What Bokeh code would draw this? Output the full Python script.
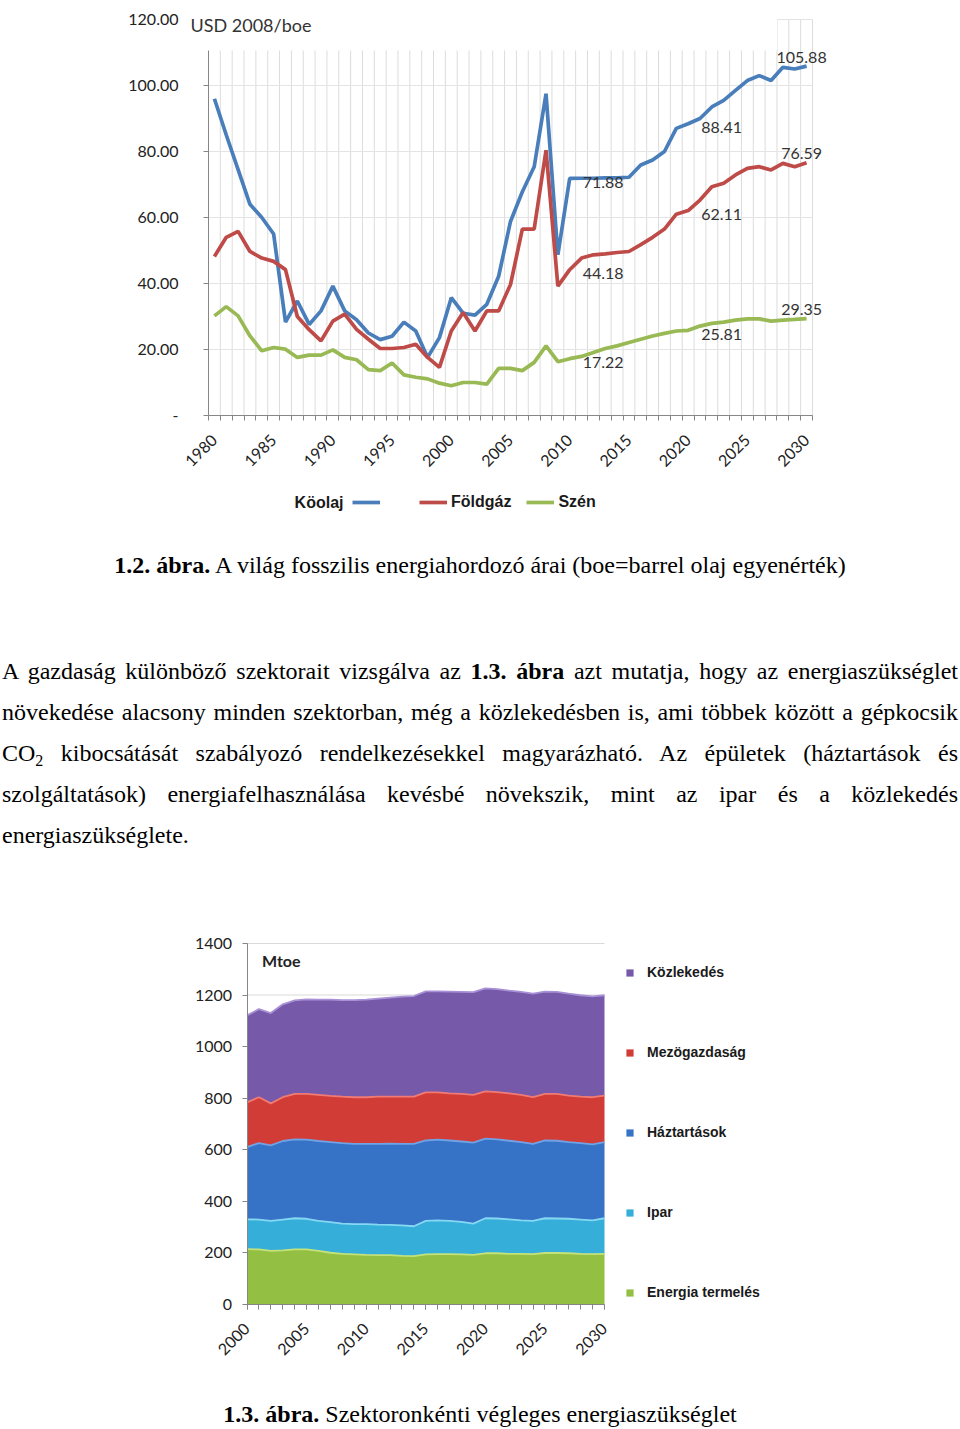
import math
from bokeh.plotting import figure
from bokeh.models import (Range1d, FixedTicker, Legend, LegendItem, Label, BoxAnnotation,
                          ColumnDataSource, Div, NumeralTickFormatter)
from bokeh.layouts import column
from bokeh.embed import file_html
from bokeh.resources import INLINE
from bokeh.core.properties import value

# ---------------- data: chart 1.2 ----------------
years1 = list(range(1980, 2031))
koolaj = [96.0, 85.0, 74.5, 64.0, 60.0, 55.0, 28.3, 34.7, 27.6, 31.7,
          39.2, 31.7, 29.0, 25.0, 23.0, 24.0, 28.3, 25.6, 17.6, 23.6,
          35.7, 31.0, 30.4, 33.7, 42.2, 58.8, 67.8, 75.4, 97.5, 48.7,
          71.88, 71.9, 71.9, 72.0, 72.0, 72.2, 75.9, 77.4, 80.0, 87.0,
          88.41, 90.0, 93.5, 95.5, 98.5, 101.5, 103.0, 101.5, 105.5, 105.0,
          105.88]
foldgaz = [48.2, 54.0, 55.8, 49.7, 47.7, 46.7, 44.2, 30.0, 26.0, 22.6,
           28.6, 30.7, 26.1, 23.1, 20.3, 20.3, 20.6, 21.6, 17.6, 14.6,
           25.6, 31.2, 25.6, 31.7, 31.7, 39.7, 56.5, 56.5, 80.4, 39.2,
           44.18, 47.7, 48.7, 49.0, 49.4, 49.7, 51.8, 54.0, 56.5, 61.0,
           62.11, 65.3, 69.3, 70.4, 72.9, 74.9, 75.4, 74.4, 76.4, 75.4,
           76.59]
szen = [30.2, 33.0, 30.2, 24.1, 19.6, 20.6, 20.1, 17.6, 18.3, 18.3,
        19.9, 17.6, 16.9, 13.9, 13.6, 15.9, 12.3, 11.6, 11.1, 9.8,
        9.0, 10.0, 10.0, 9.5, 14.3, 14.3, 13.6, 16.1, 21.1, 16.3,
        17.22, 17.9, 19.1, 20.3, 21.1, 22.1, 23.1, 24.1, 24.9, 25.6,
        25.81, 27.1, 27.9, 28.3, 28.9, 29.3, 29.3, 28.6, 28.9, 29.1,
        29.35]
y_ticks1 = [0, 20, 40, 60, 80, 100, 120]
x_label_years1 = [1980, 1985, 1990, 1995, 2000, 2005, 2010, 2015, 2020, 2025, 2030]
mid_label_years = [2010, 2020]
end_label_year = 2030
series_names1 = ["Köolaj", "Földgáz", "Szén"]

# ---------------- data: chart 1.3 ----------------
years2 = list(range(2000, 2031))
energia = [213, 212, 206, 208, 212, 212, 206, 199, 195, 193, 191, 190, 190, 187, 186, 193,
           194, 194, 193, 191, 197, 197, 195, 195, 194, 198, 198, 197, 195, 194, 195]
ipar = [116, 116, 117, 120, 121, 119, 117, 119, 117, 117, 119, 118, 117, 118, 116, 130,
        131, 129, 126, 121, 136, 135, 134, 130, 129, 135, 134, 134, 133, 131, 138]
haztartasok = [280, 297, 293, 305, 306, 307, 310, 311, 313, 312, 312, 314, 316, 317, 320, 312,
               313, 312, 312, 315, 309, 307, 305, 304, 299, 302, 302, 298, 297, 295, 296]
mezogazdasag = [174, 178, 163, 170, 177, 178, 179, 179, 180, 181, 181, 183, 182, 183, 183, 187,
                184, 183, 185, 185, 184, 184, 184, 183, 181, 181, 182, 180, 180, 183, 180]
kozlekedes = [338, 342, 351, 361, 363, 367, 370, 374, 375, 377, 379, 381, 385, 389, 391, 392,
              392, 395, 396, 399, 400, 400, 399, 400, 402, 397, 396, 396, 394, 392, 390]
y_ticks2 = [0, 200, 400, 600, 800, 1000, 1200, 1400]
x_label_years2 = [2000, 2005, 2010, 2015, 2020, 2025, 2030]
sector_names = ["Energia termelés", "Ipar", "Háztartások", "Mezögazdaság", "Közlekedés"]

AX = "#868686"
NUM_FONT = "Lato"
LEG_FONT = "Liberation Sans"
W = 960


def xspan(v_at, px_at, ppu, total):
    s = v_at - px_at / ppu
    return Range1d(s, s + total / ppu)


def yspan(v_at, px_from_top, ppu, total):
    e = v_at + px_from_top / ppu
    return Range1d(e - total / ppu, e)


def style_axis(ax, standoff):
    ax.axis_line_color = AX
    ax.major_tick_line_color = AX
    ax.minor_tick_line_color = AX
    ax.major_tick_in = 0
    ax.minor_tick_in = 0
    ax.major_label_standoff = standoff
    ax.major_label_text_font = NUM_FONT
    ax.major_label_text_font_size = "16px"
    ax.major_label_text_color = "#222222"


# ================= figure 1 (frame = whole canvas) =================
H1 = 530
x0_1, x1_1 = years1[0] - 0.5, years1[-1] + 0.5
p1 = figure(width=W, height=H1,
            x_range=xspan(x0_1, 208, 604 / (x1_1 - x0_1), W),
            y_range=yspan(0, 415, 3.3, H1),
            output_backend="svg", toolbar_location=None, min_border=0)
p1.outline_line_color = None
p1.xgrid.visible = False
p1.ygrid.visible = False

xa = p1.xaxis[0]
xa.fixed_location = 0
xa.bounds = (x0_1, x1_1)
xa.ticker = FixedTicker(ticks=x_label_years1,
                        minor_ticks=[y - 0.5 for y in years1] + [x1_1])
style_axis(xa, 17)
xa.major_tick_out = 0
xa.minor_tick_out = 5
xa.major_label_orientation = math.pi / 4

ya = p1.yaxis[0]
ya.fixed_location = x0_1
ya.bounds = (0, y_ticks1[-1])
ya.ticker = FixedTicker(ticks=y_ticks1)
ya.formatter = NumeralTickFormatter(format="0.00")
ya.major_label_overrides = {0: "-"}
style_axis(ya, 25)
ya.major_tick_out = 5
ya.minor_tick_line_color = None

# grid lines
vx = [y - 0.5 for y in years1] + [x1_1]
p1.segment(x0=vx, y0=[0] * len(vx), x1=vx, y1=[y_ticks1[-1]] * len(vx),
           line_color="#dcdcdc", line_width=1)
hy = y_ticks1[1:]
p1.segment(x0=[x0_1] * len(hy), y0=hy, x1=[x1_1] * len(hy), y1=hy,
           line_color="#e4e4e4", line_width=1)

src1 = ColumnDataSource(dict(year=years1, koolaj=koolaj, foldgaz=foldgaz, szen=szen))
r_oil = p1.line("year", "koolaj", source=src1, line_color="#4A7EBB", line_width=3.7)
r_gas = p1.line("year", "foldgaz", source=src1, line_color="#BE4B48", line_width=3.7)
r_coal = p1.line("year", "szen", source=src1, line_color="#98B954", line_width=3.7)

# white title box covering the top of the plot area (as in the original)
p1.add_layout(BoxAnnotation(left=x0_1 - 2.0, right=2027.5, bottom=110.6, top=p1.y_range.end,
                            fill_color="white", fill_alpha=1.0, line_color=None))
p1.add_layout(Label(x=x0_1, y=y_ticks1[-1], x_offset=-18, y_offset=-5, text="USD 2008/boe",
                    text_align="left", text_baseline="middle", text_font=NUM_FONT,
                    text_font_size="18px", text_color="#333333"))

# data labels
mid_x, mid_y = [], []
for yr in mid_label_years:
    i = years1.index(yr)
    for series in (koolaj, foldgaz, szen):
        mid_x.append(yr)
        mid_y.append(series[i])
mid_src = ColumnDataSource(dict(x=mid_x, y=mid_y, t=[f"{v:.2f}" for v in mid_y]))
p1.text("x", "y", text="t", source=mid_src, x_offset=13, y_offset=4,
        text_align="left", text_baseline="middle", text_font=value(NUM_FONT),
        text_font_size="16px", text_color="#333333")
ie = years1.index(end_label_year)
end_y = [koolaj[ie], foldgaz[ie], szen[ie]]
end_src = ColumnDataSource(dict(x=[end_label_year] * 3, y=end_y, t=[f"{v:.2f}" for v in end_y]))
p1.text("x", "y", text="t", source=end_src, x_offset=-5, y_offset=-9,
        text_align="center", text_baseline="middle", text_font=value(NUM_FONT),
        text_font_size="16px", text_color="#333333")

# legend: "Köolaj" text sits left of its swatch in the original
leg1 = Legend(items=[LegendItem(label=" ", renderers=[r_oil]),
                     LegendItem(label=series_names1[1], renderers=[r_gas]),
                     LegendItem(label=series_names1[2], renderers=[r_coal])],
              orientation="horizontal", location=(352, 18),
              glyph_width=28, glyph_height=20, label_standoff=4, label_width=20,
              spacing=15, padding=0, margin=0, border_line_color=None,
              background_fill_alpha=0, label_text_font=LEG_FONT,
              label_text_font_size="16px", label_text_font_style="bold",
              label_text_color="#1a1a1a")
p1.add_layout(leg1)
p1.add_layout(Label(x=x0_1, y=0, x_offset=343 - 208, y_offset=-87, text=series_names1[0],
                    text_align="right", text_baseline="middle", text_font=LEG_FONT,
                    text_font_size="16px", text_font_style="bold", text_color="#1a1a1a"))

# ================= captions / paragraph =================
SERIF = "'Liberation Serif','Times New Roman',serif"
cap1 = Div(width=W, height=70, margin=(0, 0, 0, 0),
           text=(f'<div style="font-family:{SERIF};font-size:24px;color:#000;'
                 f'text-align:center;padding-top:20px;line-height:30px;width:{W}px;">'
                 '<b>1.2. ábra.</b> A világ fosszilis energiahordozó árai '
                 '(boe=barrel olaj egyenérték)</div>'))

para_lines = [
    "A gazdaság különböző szektorait vizsgálva az <b>1.3. ábra</b> azt mutatja, hogy az energiaszükséglet",
    "növekedése alacsony minden szektorban, még a közlekedésben is, ami többek között a gépkocsik",
    "CO<sub style=\"font-size:16px;vertical-align:-5px;line-height:0\">2</sub> kibocsátását szabályozó "
    "rendelkezésekkel magyarázható. Az épületek (háztartások és",
    "szolgáltatások) energiafelhasználása kevésbé növekszik, mint az ipar és a közlekedés",
    "energiaszükséglete.",
]
html = []
for k, ln in enumerate(para_lines):
    al = "left" if k == len(para_lines) - 1 else "justify"
    html.append(f'<div style="text-align:justify;text-align-last:{al};white-space:nowrap;">{ln}</div>')
para = Div(width=W, height=260, margin=(0, 0, 0, 0),
           text=(f'<div style="margin-left:2px;width:956px;padding-top:51px;'
                 f'font-family:{SERIF};font-size:24px;line-height:41px;color:#000;">'
                 + "".join(html) + '</div>'))

# ================= figure 2 (frame = whole canvas) =================
H2 = 530
p2 = figure(width=W, height=H2,
            x_range=xspan(years2[0], 246.5, 357.5 / (years2[-1] - years2[0]), W),
            y_range=yspan(0, 443.5, 360.5 / y_ticks2[-1], H2),
            output_backend="svg", toolbar_location=None, min_border=0)
p2.outline_line_color = None
p2.xgrid.visible = False
p2.ygrid.visible = False

xb = p2.xaxis[0]
xb.fixed_location = 0
xb.bounds = (years2[0], years2[-1])
xb.ticker = FixedTicker(ticks=x_label_years2, minor_ticks=years2)
style_axis(xb, 17)
xb.major_tick_out = 5
xb.minor_tick_out = 5
xb.major_label_orientation = math.pi / 4

yb = p2.yaxis[0]
yb.fixed_location = years2[0]
yb.bounds = (0, y_ticks2[-1])
yb.ticker = FixedTicker(ticks=y_ticks2)
style_axis(yb, 10)
yb.major_tick_out = 5
yb.minor_tick_line_color = None

hy2 = y_ticks2[1:]
p2.segment(x0=[years2[0]] * len(hy2), y0=hy2, x1=[years2[-1]] * len(hy2), y1=hy2,
           line_color="#d9d9d9", line_width=1)

src2 = ColumnDataSource(dict(year=years2, energia=energia, ipar=ipar, haztartasok=haztartasok,
                             mezogazdasag=mezogazdasag, kozlekedes=kozlekedes))
stackers = ["energia", "ipar", "haztartasok", "mezogazdasag", "kozlekedes"]
fill_cols = ["#93BF42", "#35AEDA", "#3672C6", "#D23C36", "#7659A8"]
edge_cols = ["#C4E27A", "#86D8F2", "#6FA3E6", "#F07A74", "#A891D6"]
areas = p2.varea_stack(stackers, x="year", source=src2, color=fill_cols)
p2.vline_stack(stackers, x="year", source=src2, color=edge_cols, line_width=1.8)

leg2 = Legend(items=[LegendItem(label=sector_names[i], renderers=[areas[i]]) for i in range(4, -1, -1)],
              orientation="vertical", location=(625, 90),
              glyph_width=9, glyph_height=9, label_standoff=13, spacing=64,
              padding=0, margin=0, border_line_color=None, background_fill_alpha=0,
              label_text_font=LEG_FONT, label_text_font_size="14px",
              label_text_font_style="bold", label_text_color="#1a1a1a")
p2.add_layout(leg2)
p2.add_layout(Label(x=years2[0], y=y_ticks2[-1], x_offset=15, y_offset=-17, text="Mtoe",
                    text_align="left", text_baseline="middle", text_font=NUM_FONT,
                    text_font_size="16px", text_font_style="bold", text_color="#222222"))

cap2 = Div(width=W, height=39, margin=(0, 0, 0, 0),
           text=(f'<div style="font-family:{SERIF};font-size:24px;color:#000;'
                 f'text-align:center;padding-top:9px;line-height:30px;width:{W}px;">'
                 '<b>1.3. ábra.</b> Szektoronkénti végleges energiaszükséglet</div>'))

layout = column(p1, cap1, para, p2, cap2, spacing=0)
open("out.html", "w").write(file_html(layout, INLINE))
